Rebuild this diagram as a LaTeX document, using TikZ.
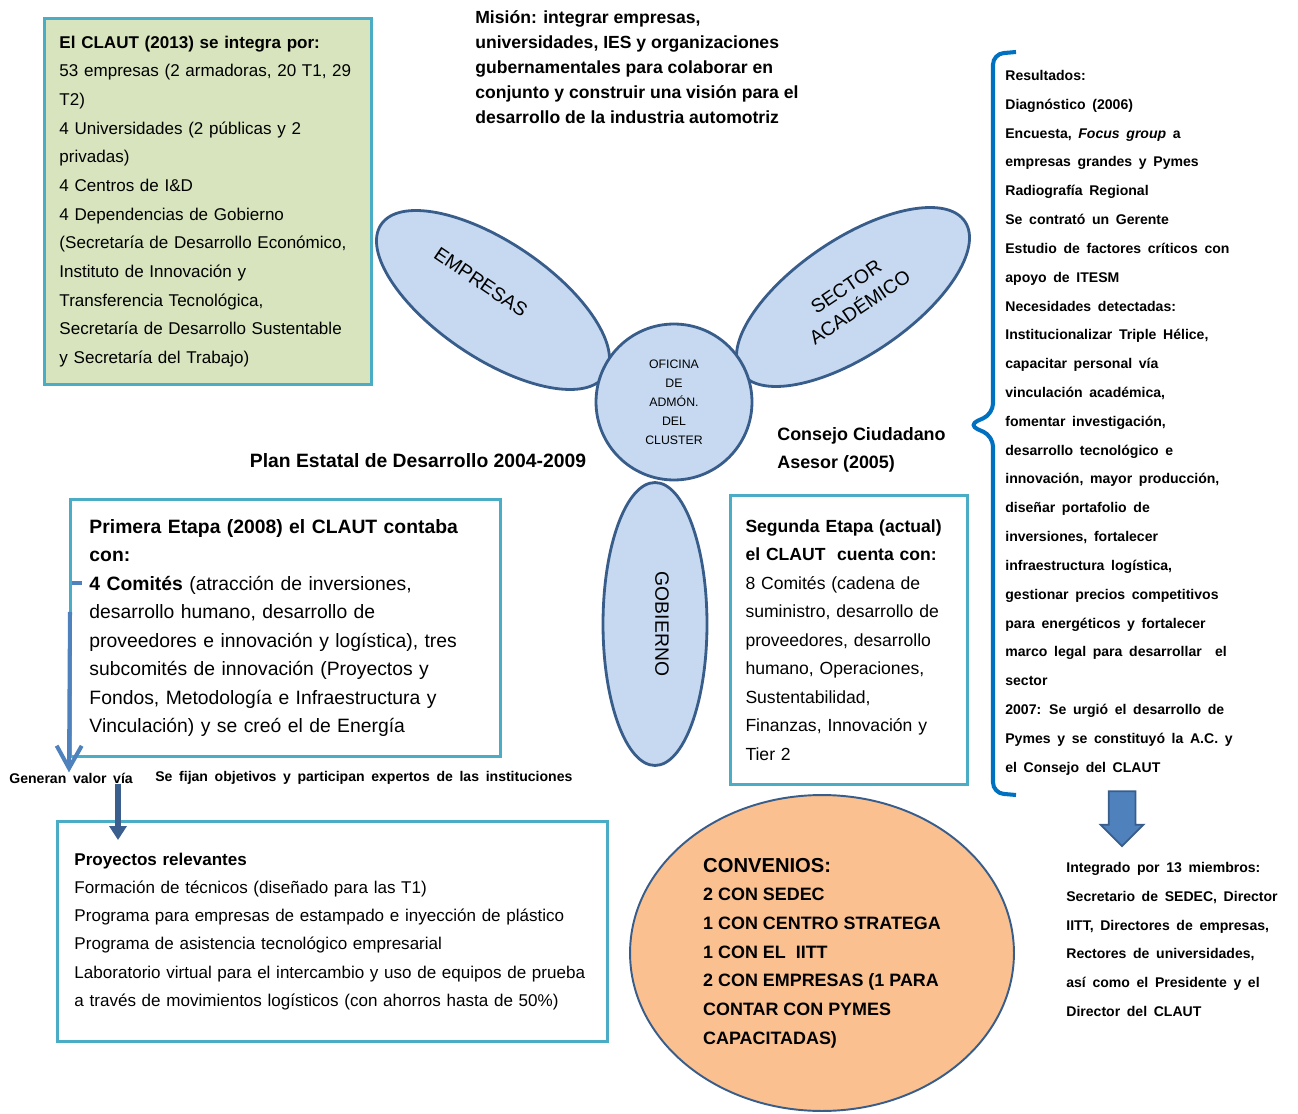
\documentclass[tikz,border=0pt]{standalone}
\usepackage{fontspec}
\setmainfont{Liberation Sans}
\newfontfamily\widefont[WordSpace=1.7]{Liberation Sans}
\usepackage{xcolor}
\usepackage{tikz}
\usetikzlibrary{shapes.geometric, shapes.arrows, arrows.meta, calc}

\definecolor{boxline}{HTML}{4BACC6}
\definecolor{claufill}{HTML}{D7E4BD}
\definecolor{petalfill}{HTML}{C6D9F1}
\definecolor{petalline}{HTML}{385D8A}
\definecolor{convfill}{HTML}{FAC090}
\definecolor{lightblue}{HTML}{4F81BD}
\definecolor{darkblue}{HTML}{3A5F8E}
\definecolor{bracketblue}{HTML}{0070C0}

\tikzstyle{box} = [rectangle, draw=boxline, line width=1.7pt, fill=white, anchor=north west, align=left, inner xsep=0.38cm]
\tikzstyle{petal} = [ellipse, draw=petalline, fill=petalfill, line width=1.6pt, align=center, inner sep=0pt, font=\fontsize{11}{14}\selectfont]
\tikzstyle{note} = [anchor=north west, align=left, inner sep=0pt]
\tikzstyle{small} = [font=\widefont\bfseries\fontsize{8}{16.4}\selectfont]
\tikzstyle{arrow} = [lightblue, line width=2.3pt, -{Straight Barb[length=0.45cm,width=0.5cm]}]
\tikzstyle{thinarrow} = [darkblue, line width=3.4pt, -{Triangle[length=0.28cm,width=0.34cm]}]

\begin{document}
\begin{tikzpicture}[x=0.02cm, y=-0.02cm]
    \useasboundingbox (0,0) rectangle (1298,1114);

    % integrantes
    \node (claut) [box, fill=claufill, text width=5.94cm, inner xsep=0.3cm, minimum height=7.32cm, font=\fontsize{9.7}{16.3}\selectfont] at (43,17) {\textbf{El CLAUT (2013) se integra por:}\\
        53 empresas (2 armadoras, 20 T1, 29\\
        T2)\\
        4 Universidades (2 públicas y 2\\
        privadas)\\
        4 Centros de I\&D\\
        4 Dependencias de Gobierno\\
        (Secretaría de Desarrollo Económico,\\
        Instituto de Innovación y\\
        Transferencia Tecnológica,\\
        Secretaría de Desarrollo Sustentable\\
        y Secretaría del Trabajo)};
    \node (mision) [note, font=\bfseries\fontsize{10}{14.2}\selectfont] at (475,10) {Misión: integrar empresas,\\
        universidades, IES y organizaciones\\
        gubernamentales para colaborar en\\
        conjunto y construir una visión para el\\
        desarrollo de la industria automotriz};

    % helice
    \node (empresas) [petal, minimum width=5.4cm, minimum height=2.32cm, rotate=-34] at (493,300) {\raisebox{0.16cm}[\height][\depth]{EMPRESAS}\hspace{0.8cm}};
    \node (academico) [petal, minimum width=5.4cm, minimum height=2.32cm, rotate=34] at (853,297) {SECTOR\\ACADÉMICO};
    \node (gobierno) [petal, minimum width=5.66cm, minimum height=2.08cm, rotate=-90] at (655,624) {\raisebox{0.14cm}[\height][\depth]{GOBIERNO}};
    \node (oficina) [petal, circle, minimum size=3.12cm, font=\fontsize{7}{10.8}\selectfont] at (674,402) {OFICINA\\DE\\ADMÓN.\\DEL\\CLUSTER};

    \node (plan) [inner sep=0pt, font=\bfseries\fontsize{11}{12}\selectfont] at (418,461) {Plan Estatal de Desarrollo 2004-2009};
    \node (consejo) [note, font=\bfseries\fontsize{10.2}{15.9}\selectfont] at (777,427) {Consejo Ciudadano\\Asesor (2005)};

    % etapas
    \node (primera) [box, text width=7.84cm, minimum height=5.14cm, font=\fontsize{11}{16.2}\selectfont] at (69,498) {\textbf{Primera Etapa (2008) el CLAUT contaba}\\
        \textbf{con:}\\
        \textbf{4 Comités} (atracción de inversiones,\\
        desarrollo humano, desarrollo de\\
        proveedores e innovación y logística), tres\\
        subcomités de innovación (Proyectos y\\
        Fondos, Metodología e Infraestructura y\\
        Vinculación) y se creó el de Energía};
    \node (segunda) [box, text width=4.14cm, inner xsep=0.3cm, minimum height=5.78cm, font=\fontsize{10}{16.2}\selectfont] at (729,494) {\textbf{Segunda Etapa (actual)}\\
        \textbf{el CLAUT\ \ cuenta con:}\\
        8 Comités (cadena de\\
        suministro, desarrollo de\\
        proveedores, desarrollo\\
        humano, Operaciones,\\
        Sustentabilidad,\\
        Finanzas, Innovación y\\
        Tier 2};

    \node (generan) [small, anchor=west, inner sep=0pt] at (9,778) {Generan valor vía};
    \node (fijan) [small, anchor=west, inner sep=0pt] at (155,778) {Se fijan objetivos y participan expertos de las instituciones};

    \node (proyectos) [box, text width=10.32cm, inner xsep=0.34cm, minimum height=4.4cm, font=\fontsize{9.7}{16}\selectfont] at (56,820) {\textbf{Proyectos relevantes}\\
        Formación de técnicos (diseñado para las T1)\\
        Programa para empresas de estampado e inyección de plástico\\
        Programa de asistencia tecnológico empresarial\\
        Laboratorio virtual para el intercambio y uso de equipos de prueba\\
        a través de movimientos logísticos (con ahorros hasta de 50\%)};

    \coordinate (tick) at ($(primera.north west)+(3,85)$);
    \coordinate (vialine) at ($(proyectos.north west)+(62,20)$);
    \draw [lightblue, line width=2.3pt] (tick) -- ++(10,0);
    \draw [arrow] ($(primera.north west)+(1,114)$) -- (primera.west |- generan.north);
    \draw [thinarrow] (vialine |- generan.south) -- (vialine);

    % convenios
    \node (convenios) [ellipse, draw=petalline, line width=1.1pt, fill=convfill, minimum width=7.68cm, minimum height=6.32cm, align=left, font=\bfseries\fontsize{10.2}{16.3}\selectfont] at (822,953) {{\fontsize{11.5}{16.3}\selectfont CONVENIOS:}\\
        2 CON SEDEC\\
        1 CON CENTRO STRATEGA\\
        1 CON EL\ \ IITT\\
        2 CON EMPRESAS (1 PARA\\
        CONTAR CON PYMES\\
        CAPACITADAS)};

    % resultados
    \node (resultados) [note, small] at (1005,70) {Resultados:\\
        Diagnóstico (2006)\\
        Encuesta, \textit{Focus group} a\\
        empresas grandes y Pymes\\
        Radiografía Regional\\
        Se contrató un Gerente\\
        Estudio de factores críticos con\\
        apoyo de ITESM\\
        Necesidades detectadas:\\
        Institucionalizar Triple Hélice,\\
        capacitar personal vía\\
        vinculación académica,\\
        fomentar investigación,\\
        desarrollo tecnológico e\\
        innovación, mayor producción,\\
        diseñar portafolio de\\
        inversiones, fortalecer\\
        infraestructura logística,\\
        gestionar precios competitivos\\
        para energéticos y fortalecer\\
        marco legal para desarrollar\ \ el\\
        sector\\
        2007: Se urgió el desarrollo de\\
        Pymes y se constituyó la A.C. y\\
        el Consejo del CLAUT};
    \draw [bracketblue, line width=2.3pt, rounded corners=6pt] (1016,52) -- (993,54) -- (993,414) -- (968,425) -- (993,436) -- (993,793) -- (1016,795);

    \node (flecha) [single arrow, draw=petalline, fill=lightblue, line width=1pt, rotate=-90, minimum height=1.1cm, minimum width=0.82cm, single arrow head extend=0.16cm, inner sep=0.25cm] at (1122,812) {};
    \node (integrado) [note, small] at (1066,862) {Integrado por 13 miembros:\\
        Secretario de SEDEC, Director\\
        IITT, Directores de empresas,\\
        Rectores de universidades,\\
        así como el Presidente y el\\
        Director del CLAUT};
\end{tikzpicture}
\end{document}
